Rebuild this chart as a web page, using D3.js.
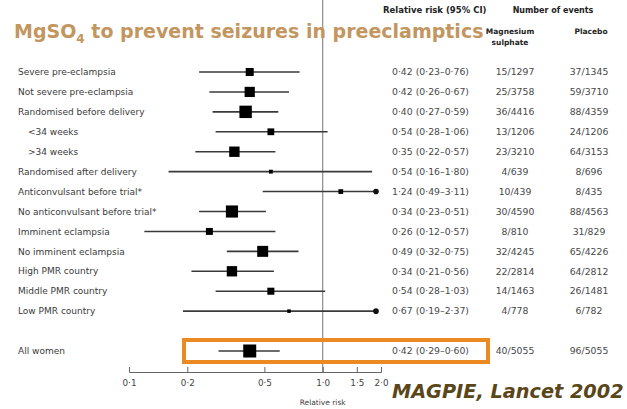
<!DOCTYPE html>
<html>
<head>
<meta charset="utf-8">
<script src="https://cdn.jsdelivr.net/npm/d3@7"></script>
<style>
  body { margin: 0; background: #fff; }
  text { font-family: "DejaVu Sans", Verdana, sans-serif; }
</style>
</head>
<body>
<div id="viz"></div>
<script>
// rows of the forest plot
var labels = ['Severe pre-eclampsia', 'Not severe pre-eclampsia', 'Randomised before delivery',
  '<34 weeks', '>34 weeks', 'Randomised after delivery', 'Anticonvulsant before trial*',
  'No anticonvulsant before trial*', 'Imminent eclampsia', 'No imminent eclampsia',
  'High PMR country', 'Middle PMR country', 'Low PMR country', '', 'All women'];
var rr = [0.42, 0.42, 0.40, 0.54, 0.35, 0.54, 1.24, 0.34, 0.26, 0.49, 0.34, 0.54, 0.67, null, 0.42];
var lo = [0.23, 0.26, 0.27, 0.28, 0.22, 0.16, 0.49, 0.23, 0.12, 0.32, 0.21, 0.28, 0.19, null, 0.29];
var hi = [0.76, 0.67, 0.59, 1.06, 0.57, 1.80, 3.11, 0.51, 0.57, 0.75, 0.56, 1.03, 2.37, null, 0.60];
var mgE = [15, 25, 36, 13, 23, 4, 10, 30, 8, 32, 22, 14, 4, null, 40];
var mgN = [1297, 3758, 4416, 1206, 3210, 639, 439, 4590, 810, 4245, 2814, 1463, 778, null, 5055];
var plE = [37, 59, 88, 24, 64, 8, 8, 88, 31, 65, 64, 26, 6, null, 96];
var plN = [1345, 3710, 4359, 1206, 3153, 696, 435, 4563, 829, 4226, 2812, 1481, 782, null, 5055];
var tickVals = [0.1, 0.2, 0.5, 1.0, 1.5, 2.0];

var W = 627, H = 409;
var svg = d3.select('#viz').append('svg')
    .attr('width', W)
    .attr('height', H);

var x = d3.scaleLog().domain([0.1, 2.0]).range([129, 381]).clamp(true);
var y = d3.scalePoint().domain(d3.range(labels.length)).range([72, 351]);
var boxSize = d3.scaleSqrt().domain([0, 136]).range([0, 13]);
var fmt = function(v){ return d3.format('.2f')(v).replace('.', '\u00b7'); };
var rows = d3.range(labels.length).filter(function(i){ return rr[i] != null; });

// line of no effect
svg.append('line')
    .attr('x1', x(1)).attr('x2', x(1))
    .attr('y1', 0).attr('y2', 372)
    .style('stroke', '#8a8a8a')
    .style('stroke-width', 1.2);

// title
var title = svg.append('text')
    .attr('x', 14).attr('y', 38)
    .style('font-size', '19px')
    .style('font-weight', 'bold')
    .style('fill', '#c3965f');
title.append('tspan').text('MgSO');
title.append('tspan').attr('dy', 5).style('font-size', '12px').text('4');
title.append('tspan').attr('dy', -5).text(' to prevent seizures in preeclamptics');

// column headers
var head = svg.append('g').style('font-weight', 'bold').style('fill', '#222');
head.append('text').attr('x', 383).attr('y', 13).style('font-size', '8.5px').text('Relative risk (95% CI)');
head.append('text').attr('x', 553).attr('y', 13).attr('text-anchor', 'middle').style('font-size', '8px').text('Number of events');
head.append('text').attr('x', 510).attr('y', 34).attr('text-anchor', 'middle').style('font-size', '7.5px').text('Magnesium');
head.append('text').attr('x', 510).attr('y', 45).attr('text-anchor', 'middle').style('font-size', '7.5px').text('sulphate');
head.append('text').attr('x', 591).attr('y', 34).attr('text-anchor', 'middle').style('font-size', '7.5px').text('Placebo');

// highlight box round "All women"
svg.append('rect')
    .attr('x', 184).attr('y', 340)
    .attr('width', 304).attr('height', 22)
    .style('fill', 'none')
    .style('stroke', '#eb8a23')
    .style('stroke-width', 4);

// row labels
svg.selectAll('.lab').data(rows).enter().append('text')
    .attr('class', 'lab')
    .attr('x', function(i){ return /^[<>]/.test(labels[i]) ? 28 : 18; })
    .attr('y', function(i){ return y(i); })
    .attr('dy', '0.35em')
    .style('font-size', '9px')
    .style('fill', '#3a3a3a')
    .text(function(i){ return labels[i]; });

// confidence intervals
svg.selectAll('.ci').data(rows).enter().append('line')
    .attr('class', 'ci')
    .attr('x1', function(i){ return x(lo[i]); })
    .attr('x2', function(i){ return hi[i] > 2 ? x(2) - 5 : x(hi[i]); })
    .attr('y1', function(i){ return y(i); })
    .attr('y2', function(i){ return y(i); })
    .style('stroke', '#3a3a3a')
    .style('stroke-width', 1.6);

// clipped ends
svg.selectAll('.arr').data(rows.filter(function(i){ return hi[i] > 2; })).enter().append('circle')
    .attr('cx', x(2) - 5)
    .attr('cy', function(i){ return y(i); })
    .attr('r', 2.8)
    .style('fill', '#111');

// point estimates
svg.selectAll('.box').data(rows).enter().append('rect')
    .attr('class', 'box')
    .attr('x', function(i){ return x(rr[i]) - boxSize(mgE[i] + plE[i]) / 2; })
    .attr('y', function(i){ return y(i) - boxSize(mgE[i] + plE[i]) / 2; })
    .attr('width', function(i){ return boxSize(mgE[i] + plE[i]); })
    .attr('height', function(i){ return boxSize(mgE[i] + plE[i]); })
    .style('fill', '#000');

// numbers
var cols = svg.append('g').style('font-size', '9.3px').style('fill', '#484848');
cols.selectAll('.rr').data(rows).enter().append('text')
    .attr('x', 392).attr('y', function(i){ return y(i); }).attr('dy', '0.35em')
    .text(function(i){ return fmt(rr[i]) + ' (' + fmt(lo[i]) + '\u2013' + fmt(hi[i]) + ')'; });
cols.selectAll('.mg').data(rows).enter().append('text')
    .attr('x', 515).attr('y', function(i){ return y(i); }).attr('dy', '0.35em')
    .attr('text-anchor', 'middle')
    .text(function(i){ return mgE[i] + '/' + mgN[i]; });
cols.selectAll('.pl').data(rows).enter().append('text')
    .attr('x', 589).attr('y', function(i){ return y(i); }).attr('dy', '0.35em')
    .attr('text-anchor', 'middle')
    .text(function(i){ return plE[i] + '/' + plN[i]; });

// axis
var axis = svg.append('g')
    .attr('transform', 'translate(0,372)')
    .call(d3.axisBottom(x).tickValues(tickVals).tickSize(-5).tickPadding(8)
        .tickFormat(function(d){ return d3.format('.1f')(d).replace('.', '\u00b7'); }));
axis.select('.domain').style('stroke', '#666');
axis.selectAll('line').style('stroke', '#666');
axis.selectAll('text').style('font-size', '8.8px').style('fill', '#444')
    .style('font-family', '"DejaVu Sans", sans-serif');

svg.append('text')
    .attr('x', x(1)).attr('y', 405)
    .attr('text-anchor', 'middle')
    .style('font-size', '7.5px')
    .style('fill', '#444')
    .text('Relative risk');

// source
svg.append('text')
    .attr('x', 392).attr('y', 398)
    .style('font-size', '19.3px')
    .style('font-weight', 'bold')
    .style('font-style', 'italic')
    .style('fill', '#5a4619')
    .text('MAGPIE, Lancet 2002');
</script>
</body>
</html>
